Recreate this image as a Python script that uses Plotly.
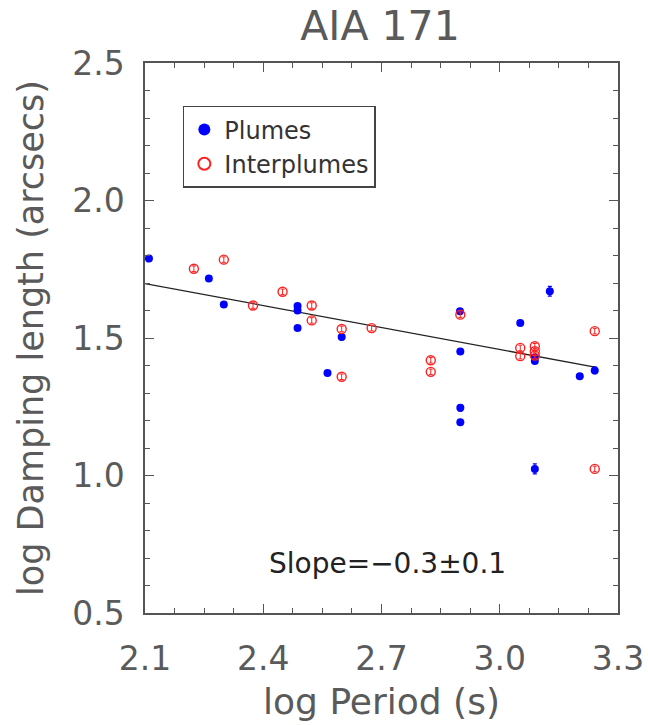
import plotly.graph_objects as go

# Plumes (blue, filled)
plume_x = [2.110, 2.262, 2.300, 2.487, 2.487, 2.487, 2.599, 2.563, 2.899, 2.900, 2.900, 2.900,
           3.052, 3.127, 3.089, 3.089, 3.089, 3.203, 3.241]
plume_y = [1.789, 1.716, 1.622, 1.616, 1.600, 1.536, 1.504, 1.373, 1.597, 1.451, 1.246, 1.194,
           1.555, 1.670, 1.416, 1.430, 1.024, 1.361, 1.382]
plume_err = [0.008, 0.008, 0.008, 0.008, 0.008, 0.008, 0.010, 0.008, 0.008, 0.008, 0.012, 0.008,
             0.008, 0.018, 0.008, 0.008, 0.018, 0.008, 0.012]

# Interplumes (red, open)
inter_x = [2.224, 2.300, 2.374, 2.449, 2.523, 2.523, 2.599, 2.599, 2.675, 2.825, 2.825, 2.900,
           3.052, 3.052, 3.089, 3.089, 3.089, 3.241, 3.241]
inter_y = [1.752, 1.785, 1.618, 1.668, 1.618, 1.564, 1.533, 1.359, 1.536, 1.419, 1.377, 1.585,
           1.464, 1.434, 1.470, 1.452, 1.436, 1.525, 1.024]
inter_err = [0.010] * len(inter_x)

# Linear fit line
fit_x = [2.1, 3.245]
fit_y = [1.698, 1.393]

x_ticks = [2.1, 2.4, 2.7, 3.0, 3.3]
x_ticklabels = ["2.1", "2.4", "2.7", "3.0", "3.3"]
y_ticks = [0.5, 1.0, 1.5, 2.0, 2.5]
y_ticklabels = ["0.5", "1.0", "1.5", "2.0", "2.5"]

FONT = "DejaVu Sans"
GRAY = "#5a5a5a"

fig = go.Figure()

fig.add_trace(go.Scatter(
    x=fit_x, y=fit_y, mode="lines",
    line=dict(color="#222222", width=1.3),
    showlegend=False, hoverinfo="skip"))

fig.add_trace(go.Scatter(
    x=plume_x, y=plume_y, mode="markers", name="Plumes",
    marker=dict(symbol="circle", size=8, color="#0000ff", line=dict(width=0)),
    error_y=dict(type="data", array=plume_err, color="#0000ff", thickness=1.2, width=2)))

fig.add_trace(go.Scatter(
    x=inter_x, y=inter_y, mode="markers", name="Interplumes",
    marker=dict(symbol="circle-open", size=9, color="#ff2020", line=dict(width=1.4)),
    error_y=dict(type="data", array=inter_err, color="#ff2020", thickness=1, width=2)))

axis_common = dict(
    showline=True, linecolor="#555555", linewidth=1.5, mirror="ticks",
    ticks="inside", ticklen=9, tickwidth=1.2, tickcolor="#555555",
    showgrid=False, zeroline=False, automargin=False,
    tickfont=dict(family=FONT, size=33, color=GRAY),
    minor=dict(ticks="inside", ticklen=5, tickwidth=1, tickcolor="#555555"),
)

fig.update_xaxes(
    range=[2.1, 3.3], tickvals=x_ticks, ticktext=x_ticklabels,
    minor_dtick=0.075, minor_tick0=2.1,
    ticklabelstandoff=16,
    title=dict(text="log Period (s)", font=dict(family=FONT, size=36, color=GRAY), standoff=11),
    **axis_common)

fig.update_yaxes(
    range=[0.5, 2.5], tickvals=y_ticks, ticktext=y_ticklabels,
    minor_dtick=0.1, minor_tick0=0.5,
    ticklabelstandoff=12,
    title=dict(text="log Damping length (arcsecs)", font=dict(family=FONT, size=35, color=GRAY), standoff=18),
    **axis_common)

fig.add_annotation(
    x=0.512, y=0.09, xref="paper", yref="paper", yanchor="middle",
    text="Slope=\u22120.3\u00b10.1", showarrow=False,
    font=dict(family=FONT, size=28, color="#222222"))

fig.update_layout(
    width=648, height=725, autosize=False,
    margin=dict(l=145, r=30, t=63, b=112, autoexpand=False),
    paper_bgcolor="white", plot_bgcolor="white",
    title=dict(text="AIA 171", x=380 / 648, xanchor="center",
               y=1 - 26 / 725, yanchor="middle",
               font=dict(family=FONT, size=41, color=GRAY)),
    legend=dict(x=0.080, y=0.922, xanchor="left", yanchor="top",
                bgcolor="white", bordercolor="#444444", borderwidth=1.5,
                font=dict(family=FONT, size=24, color="#333333"),
                itemsizing="constant", tracegroupgap=0),
)

fig.write_html("out.html", config={"displayModeBar": False, "responsive": False},
               post_script="document.body.style.margin='0px';")
